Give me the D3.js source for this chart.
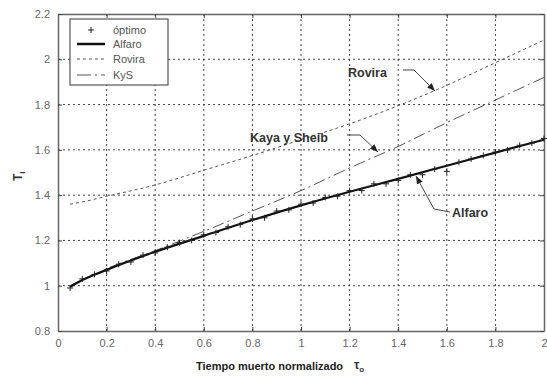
<!DOCTYPE html>
<html>
<head>
<meta charset="utf-8">
<script src="https://cdn.jsdelivr.net/npm/d3@7"></script>
<style>
  body { margin: 0; background: #fff; }
  text { font-family: "Liberation Sans", Arial, sans-serif; }
</style>
</head>
<body>
<svg id="chart" width="547" height="378"></svg>
<script>
// data
const xTicks = [0, 0.2, 0.4, 0.6, 0.8, 1, 1.2, 1.4, 1.6, 1.8, 2];
const yTicks = [0.8, 1, 1.2, 1.4, 1.6, 1.8, 2, 2.2];

const curveX = [0.05, 0.1, 0.2, 0.4, 0.6, 0.8, 1.0, 1.2, 1.4, 1.6, 1.8, 2.0];
const alfaro = [0.995, 1.025, 1.07, 1.15, 1.22, 1.29, 1.355, 1.415, 1.472, 1.53, 1.588, 1.645];
const rovira = [1.36, 1.37, 1.395, 1.445, 1.51, 1.575, 1.645, 1.715, 1.795, 1.885, 1.985, 2.085];
const kys    = [1.0, 1.025, 1.075, 1.155, 1.24, 1.33, 1.42, 1.52, 1.615, 1.72, 1.82, 1.92];

const optX = [0.05, 0.1, 0.15, 0.2, 0.25, 0.3, 0.35, 0.4, 0.45, 0.5, 0.55, 0.6, 0.65, 0.7, 0.75, 0.8, 0.85, 0.9, 0.95, 1.0,
              1.05, 1.1, 1.15, 1.2, 1.25, 1.3, 1.35, 1.4, 1.45, 1.5, 1.55, 1.6, 1.65, 1.7, 1.75, 1.8, 1.85, 1.9, 1.95, 2.0];
const optY = [0.99, 1.03, 1.05, 1.065, 1.095, 1.105, 1.135, 1.145, 1.17, 1.19, 1.2, 1.225, 1.235, 1.26, 1.27, 1.295, 1.30, 1.33, 1.335, 1.36,
              1.365, 1.39, 1.395, 1.42, 1.42, 1.45, 1.45, 1.465, 1.49, 1.49, 1.515, 1.505, 1.545, 1.56, 1.575, 1.59, 1.60, 1.62, 1.63, 1.65];

const svg = d3.select('#chart');
const x = d3.scaleLinear().domain([0, 2]).range([58, 544]);
const y = d3.scaleLinear().domain([0.8, 2.2]).range([331, 14]);

// grid
svg.append('g').selectAll('line')
  .data(xTicks.slice(1, -1))
  .enter().append('line')
  .attr('x1', d => x(d)).attr('x2', d => x(d))
  .attr('y1', y(0.8)).attr('y2', y(2.2))
  .style('stroke', '#444').style('stroke-width', 1).style('stroke-dasharray', '2,3');
svg.append('g').selectAll('line')
  .data(yTicks.slice(1, -1))
  .enter().append('line')
  .attr('x1', x(0)).attr('x2', x(2))
  .attr('y1', d => y(d)).attr('y2', d => y(d))
  .style('stroke', '#444').style('stroke-width', 1).style('stroke-dasharray', '2,3');

// axes, ticks pointing inward
const axB = svg.append('g').attr('transform', `translate(0,${y(0.8)})`)
  .call(d3.axisBottom(x).tickValues(xTicks).tickFormat(d3.format('~g')).tickSizeInner(-4).tickSizeOuter(0).tickPadding(8));
const axT = svg.append('g').attr('transform', `translate(0,${y(2.2)})`)
  .call(d3.axisTop(x).tickValues(xTicks).tickFormat('').tickSizeInner(-4).tickSizeOuter(0));
const axL = svg.append('g').attr('transform', `translate(${x(0)},0)`)
  .call(d3.axisLeft(y).tickValues(yTicks).tickFormat(d3.format('~g')).tickSizeInner(-4).tickSizeOuter(0).tickPadding(8));
const axR = svg.append('g').attr('transform', `translate(${x(2)},0)`)
  .call(d3.axisRight(y).tickValues(yTicks).tickFormat('').tickSizeInner(-4).tickSizeOuter(0));
[axB, axT, axL, axR].forEach(a => {
  a.select('.domain').style('stroke', '#666').style('stroke-width', 1.5);
  a.selectAll('.tick line').style('stroke', '#444');
  a.selectAll('text').style('font-size', '11px').style('fill', '#666')
    .style('font-family', '"Liberation Sans", Arial, sans-serif');
});

// curves
const pts = ys => curveX.map((d, i) => [d, ys[i]]);
const line = d3.line().x(d => x(d[0])).y(d => y(d[1])).curve(d3.curveMonotoneX);

svg.append('path').attr('d', line(pts(rovira)))
  .style('fill', 'none').style('stroke', '#555').style('stroke-width', 1).style('stroke-dasharray', '3,3');
svg.append('path').attr('d', line(pts(kys)))
  .style('fill', 'none').style('stroke', '#555').style('stroke-width', 1).style('stroke-dasharray', '12,4,2,4');
svg.append('path').attr('d', line(pts(alfaro)))
  .style('fill', 'none').style('stroke', '#111').style('stroke-width', 2.2);

// optimum points as +
svg.append('g').selectAll('path')
  .data(optX.map((d, i) => [d, optY[i]]))
  .enter().append('path')
  .attr('d', 'M-3,0H3M0,-3V3')
  .attr('transform', d => `translate(${x(d[0])},${y(d[1])})`)
  .style('stroke', '#222').style('stroke-width', 1);

// legend
const lg = svg.append('g');
lg.append('rect').attr('x', 70).attr('y', 19).attr('width', 98).attr('height', 66)
  .style('fill', '#fff').style('stroke', '#555').style('stroke-width', 1.2);
const legendNames = ['óptimo', 'Alfaro', 'Rovira', 'KyS'];
const legendY = [30, 44, 59, 75];
legendNames.forEach((n, i) => {
  const ly = legendY[i];
  if (i === 0) {
    lg.append('path').attr('d', 'M-3,0H3M0,-3V3').attr('transform', `translate(91,${ly})`)
      .style('stroke', '#222').style('stroke-width', 1);
  } else {
    lg.append('line').attr('x1', 77).attr('x2', 105).attr('y1', ly).attr('y2', ly)
      .style('stroke', i === 1 ? '#111' : '#555')
      .style('stroke-width', i === 1 ? 2.5 : 1)
      .style('stroke-dasharray', i === 2 ? '3,3' : i === 3 ? '14,4,2,4' : null);
  }
  lg.append('text').attr('x', 113).attr('y', ly + 4).text(n)
    .style('font-size', '11px').style('fill', '#555');
});

// annotations
svg.append('defs').append('marker')
  .attr('id', 'arr').attr('viewBox', '0 0 10 10').attr('refX', 10).attr('refY', 5)
  .attr('markerWidth', 8).attr('markerHeight', 8).attr('orient', 'auto-start-reverse')
  .append('path').attr('d', 'M0,1L10,5L0,9Z').style('fill', '#222');

const notes = [
  { t: 'Rovira', tx: 348, ty: 77, path: [[403, 70], [414, 70], [435, 91]] },
  { t: 'Kaya y Sheib', tx: 250, ty: 142, path: [[347, 135], [360, 135], [378, 152]] },
  { t: 'Alfaro', tx: 452, ty: 217, path: [[450, 212], [434, 209], [416, 176]] }
];
notes.forEach(n => {
  svg.append('text').attr('x', n.tx).attr('y', n.ty).text(n.t)
    .style('font-size', '12.5px').style('font-weight', 'bold').style('fill', '#333');
  svg.append('path').attr('d', d3.line()(n.path))
    .style('fill', 'none').style('stroke', '#444').style('stroke-width', 1)
    .attr('marker-end', 'url(#arr)');
});

// axis titles
svg.append('text').attr('x', 196).attr('y', 370)
  .text('Tiempo muerto normalizado')
  .style('font-size', '11px').style('font-weight', 'bold').style('fill', '#222');
svg.append('text').attr('x', 354).attr('y', 369)
  .style('font-size', '12px').style('font-weight', 'bold').style('fill', '#333')
  .text('τ').append('tspan').attr('dy', 3).style('font-size', '8px').text('o');
svg.append('text').attr('transform', 'translate(22,181) rotate(-90)')
  .style('font-size', '12px').style('font-weight', 'bold').style('fill', '#333')
  .text('T').append('tspan').attr('dy', 3).style('font-size', '8px').text('i');
</script>
</body>
</html>
